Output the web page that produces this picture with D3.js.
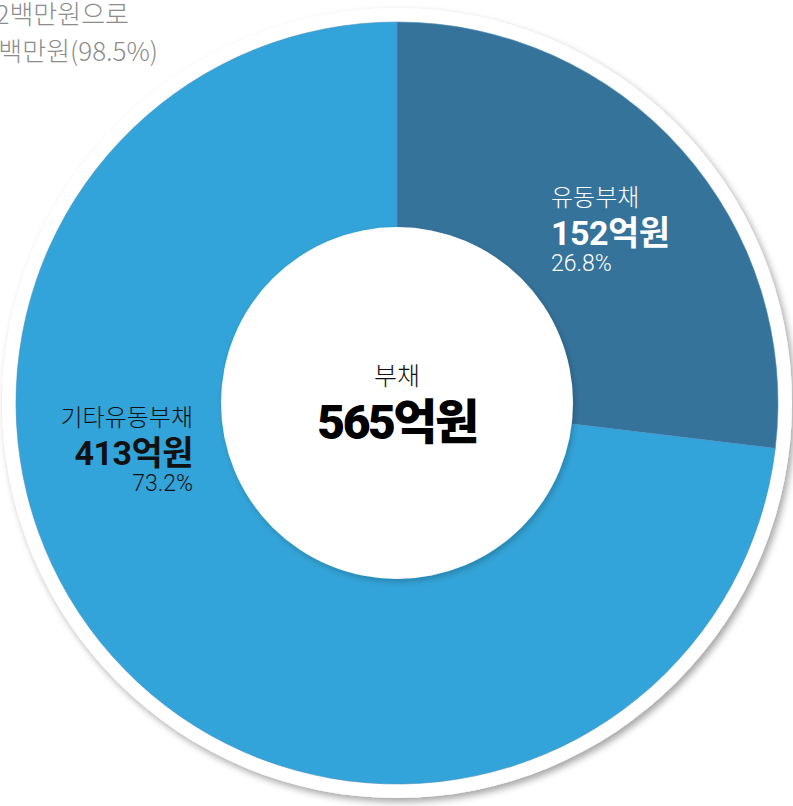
<!DOCTYPE html>
<html>
<head>
<meta charset="utf-8">
<script src="https://cdn.jsdelivr.net/npm/d3@7"></script>
<style>
  body { margin: 0; background: #fff; }
  svg { display: block; }
  text { font-family: Roboto, "Noto Sans CJK KR", sans-serif; }
  .kr { font-family: "Noto Sans CJK KR", sans-serif; }
</style>
</head>
<body>
<svg width="793" height="806"></svg>
<script>
var categories = ["유동부채", "기타유동부채"],
    values = [152, 413],
    shares = ["26.8%", "73.2%"],
    totalLabel = "부채",
    totalValue = "565억원",
    noteLines = ["2백만원으로", "백만원(98.5%)"];

var svg = d3.select("svg"),
    cx = 397, cy = 403,
    outerR = 381,
    innerR = 176,
    plateR = 395,
    g = svg.append("g").attr("transform", "translate(" + cx + "," + cy + ")");

var color = d3.scaleOrdinal()
    .domain(categories)
    .range(["#36739b", "#33a4d9"]);

var defs = svg.append("defs");
var shadow = defs.append("filter").attr("id", "shadow")
    .attr("x", "-10%").attr("y", "-10%").attr("width", "120%").attr("height", "120%");
shadow.append("feDropShadow")
    .attr("dx", 3).attr("dy", 4).attr("stdDeviation", 3.5)
    .attr("flood-color", "#000").attr("flood-opacity", 0.35);

var shadowSoft = defs.append("filter").attr("id", "shadowSoft")
    .attr("x", "-10%").attr("y", "-10%").attr("width", "120%").attr("height", "120%");
shadowSoft.append("feDropShadow")
    .attr("dx", 2).attr("dy", 3).attr("stdDeviation", 3)
    .attr("flood-color", "#000").attr("flood-opacity", 0.2);

// leftover note text cut by the left edge (as in the source)
svg.selectAll("text.note")
  .data(noteLines)
  .enter().append("text")
    .attr("class", "note kr")
    .attr("x", function(d, i) { return i ? 158 : 129; })
    .attr("y", function(d, i) { return 24 + i * 37; })
    .attr("text-anchor", "end")
    .style("font-size", "26px")
    .style("font-weight", 300)
    .style("fill", "#8c8c8c")
    .text(function(d) { return d; });

// white plate behind the donut
g.append("circle")
    .attr("r", plateR)
    .style("fill", "#fff")
    .attr("filter", "url(#shadow)");

var pie = d3.pie().sort(null).value(function(d) { return d; });
var arc = d3.arc().innerRadius(0).outerRadius(outerR);

g.selectAll("path.slice")
  .data(pie(values))
  .enter().append("path")
    .attr("class", "slice")
    .attr("d", arc)
    .style("fill", function(d, i) { return color(categories[i]); })
    .style("stroke", "#4a8fbf")
    .style("stroke-width", 0.6);

// center hole
g.append("circle")
    .attr("r", innerR)
    .style("fill", "#fff")
    .attr("filter", "url(#shadowSoft)");

// labels: [x, y, anchor, color]
var labelPos = [[154, -197, "start", "#fff"], [-204, 23, "end", "#111"]];

var label = g.selectAll("g.label")
  .data(categories)
  .enter().append("g")
    .attr("class", "label")
    .attr("transform", function(d, i) { return "translate(" + labelPos[i][0] + "," + labelPos[i][1] + ")"; })
    .style("text-anchor", function(d, i) { return labelPos[i][2]; })
    .style("fill", function(d, i) { return labelPos[i][3]; });

label.append("text")
    .attr("class", "kr")
    .style("font-size", "24px")
    .style("font-weight", 300)
    .text(function(d) { return d; });

label.append("text")
    .attr("y", 39)
    .style("font-size", "34px")
    .style("font-weight", 700)
    .style("letter-spacing", "-0.5px")
    .text(function(d, i) { return values[i] + "억원"; });

label.append("text")
    .attr("y", 65)
    .style("font-size", "23px")
    .style("font-weight", 300)
    .text(function(d, i) { return shares[i]; });

g.append("text")
    .attr("class", "kr")
    .attr("y", -18)
    .attr("text-anchor", "middle")
    .style("font-size", "25px")
    .style("font-weight", 300)
    .style("fill", "#111")
    .text(totalLabel);

g.append("text")
    .attr("y", 36)
    .attr("text-anchor", "middle")
    .style("font-size", "48px")
    .style("font-weight", 900)
    .style("letter-spacing", "-2.5px")
    .style("fill", "#000")
    .text(totalValue);
</script>
</body>
</html>
